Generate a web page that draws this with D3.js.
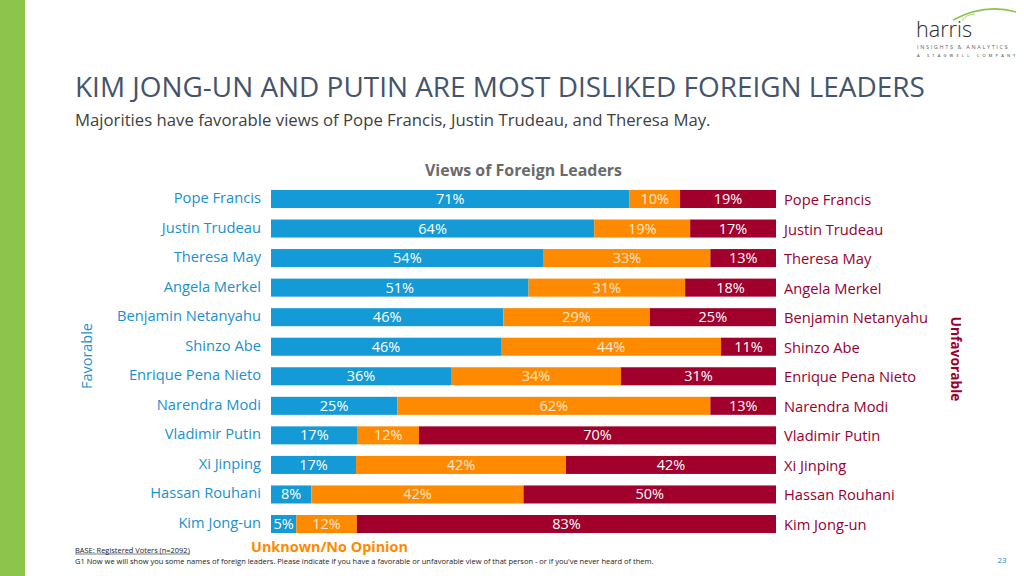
<!DOCTYPE html>
<html><head><meta charset="utf-8">
<script src="https://cdn.jsdelivr.net/npm/d3@7"></script>
<style>
html,body{margin:0;padding:0;background:#fff;}
svg{display:block;}
text{font-family:"Open Sans","Noto Sans",sans-serif;}
</style></head>
<body><svg id="c" width="1024" height="576"></svg>
<script>
const leaders = ["Pope Francis","Justin Trudeau","Theresa May","Angela Merkel","Benjamin Netanyahu","Shinzo Abe","Enrique Pena Nieto","Narendra Modi","Vladimir Putin","Xi Jinping","Hassan Rouhani","Kim Jong-un"];
const favorable   = [71,64,54,51,46,46,36,25,17,17,8,5];
const unknown     = [10,19,33,31,29,44,34,62,12,42,42,12];
const unfavorable = [19,17,13,18,25,11,31,13,70,42,50,83];
const seriesKeys = ["favorable","unknown","unfavorable"];
const seriesColors = ["#149AD6","#FF8A00","#A0002B"];
const labelColors = ["#FFFFFF","#FFE9D2","#FFFFFF"];

const rows = leaders.map((n,i)=>({name:n, favorable:favorable[i], unknown:unknown[i], unfavorable:unfavorable[i]}));

const svg = d3.select("#c");

function fit(sel, target){
  const node = sel.node();
  const fs = parseFloat(sel.attr("font-size"));
  const w = node.getComputedTextLength();
  if (w>0) sel.attr("font-size", (fs*target/w).toFixed(2));
  return sel;
}

// left green band
svg.append("rect").attr("x",0).attr("y",0).attr("width",25).attr("height",576).attr("fill","#8DC44B");

// title
fit(svg.append("text").attr("x",75).attr("y",97).attr("font-size",28).attr("fill","#44546A")
  .text("KIM JONG-UN AND PUTIN ARE MOST DISLIKED FOREIGN LEADERS"), 850);
fit(svg.append("text").attr("x",75).attr("y",126).attr("font-size",16).attr("fill","#404040")
  .text("Majorities have favorable views of Pope Francis, Justin Trudeau, and Theresa May."), 636);

// logo
const lg = svg.append("g");
lg.append("path").attr("d","M953,20 Q985,3 1016,12").attr("fill","none").attr("stroke","#8DC44B").attr("stroke-width",1.6);
lg.append("path").attr("d","M962,21 Q966,14 975,14").attr("fill","none").attr("stroke","#8DC44B").attr("stroke-width",0.8);
fit(lg.append("text").attr("x",916).attr("y",37).attr("font-size",24).attr("font-weight",300).attr("fill","#2B2B2B").attr("font-family","Lato, sans-serif").text("harris"),56);
lg.append("text").attr("x",917).attr("y",49).attr("font-size",5.6).attr("letter-spacing",1.6).attr("fill","#666").text("INSIGHTS & ANALYTICS");
lg.append("text").attr("x",917).attr("y",56.5).attr("font-size",4).attr("letter-spacing",3.2).attr("fill","#333").text("A STAGWELL COMPANY");

// chart title
fit(svg.append("text").attr("x",523.5).attr("y",176).attr("text-anchor","middle").attr("font-size",16).attr("font-weight",700).attr("fill","#6A6A6A")
  .text("Views of Foreign Leaders"), 197);

// scales
const x = d3.scaleLinear().domain([0,1]).range([271,776]);
const y = d3.scaleBand().domain(leaders).range([184.2,538.8]).paddingInner(0.39).paddingOuter(0.195);

const stack = d3.stack().keys(seriesKeys).offset(d3.stackOffsetExpand);
const stacked = stack(rows);

const g = svg.append("g");
stacked.forEach((s,si)=>{
  const sg = g.append("g");
  sg.selectAll("rect").data(s).join("rect")
    .attr("x",d=>x(d[0])).attr("width",d=>x(d[1])-x(d[0]))
    .attr("y",d=>y(d.data.name)).attr("height",y.bandwidth())
    .attr("fill",seriesColors[si]);
  sg.selectAll("text").data(s).join("text")
    .attr("x",d=>(x(d[0])+x(d[1]))/2)
    .attr("y",d=>y(d.data.name)+y.bandwidth()/2+5)
    .attr("text-anchor","middle").attr("font-size",14.5).attr("fill",labelColors[si])
    .text(d=>d.data[seriesKeys[si]]+"%");
});

// left labels
svg.append("g").selectAll("text").data(leaders).join("text")
  .attr("x",261).attr("y",d=>y(d)+y.bandwidth()/2+4)
  .attr("text-anchor","end").attr("font-size",14.7).attr("fill","#1A90CF").text(d=>d);
// right labels
svg.append("g").selectAll("text").data(leaders).join("text")
  .attr("x",784).attr("y",d=>y(d)+y.bandwidth()/2+6)
  .attr("font-size",14.7).attr("fill","#9A0030").text(d=>d);

// vertical labels
fit(svg.append("text").attr("transform","translate(92,356) rotate(-90)").attr("text-anchor","middle")
  .attr("font-size",16).attr("fill","#1A90CF").text("Favorable"),66);
fit(svg.append("text").attr("transform","translate(951,359) rotate(90)").attr("text-anchor","middle")
  .attr("font-size",16).attr("font-weight",700).attr("fill","#9A0030").text("Unfavorable"),85);

// legend-ish label
fit(svg.append("text").attr("x",251).attr("y",552).attr("font-size",16).attr("font-weight",700).attr("fill","#FF8A00")
  .text("Unknown/No Opinion"),157);

// footnotes
fit(svg.append("text").attr("x",75).attr("y",552.5).attr("font-size",7).attr("fill","#222").text("BASE: Registered Voters (n=2092)"),115);
svg.append("line").attr("x1",75).attr("x2",190).attr("y1",554).attr("y2",554).attr("stroke","#222").attr("stroke-width",0.6);
fit(svg.append("text").attr("x",75).attr("y",564).attr("font-size",7).attr("fill","#222")
  .text("G1 Now we will show you some names of foreign leaders. Please indicate if you have a favorable or unfavorable view of that person - or if you've never heard of them."),578);
svg.append("text").attr("x",1002).attr("y",563).attr("text-anchor","middle").attr("font-size",8).attr("fill","#1A90CF").text("23");
</script>
</body></html>
